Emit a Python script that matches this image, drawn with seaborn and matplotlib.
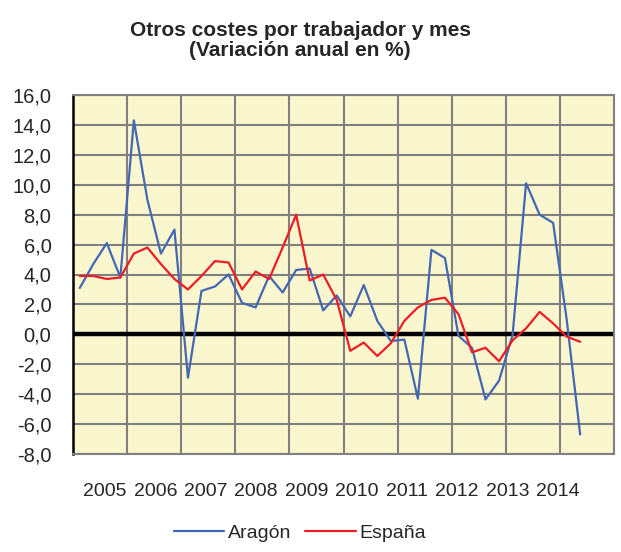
import numpy as np
import pandas as pd
import seaborn as sns
import matplotlib.pyplot as plt
from matplotlib.ticker import FuncFormatter

sns.set_style("white")
plt.rcParams["font.family"] = ["Liberation Sans", "DejaVu Sans"]

# quarterly series, 38 quarters
aragon = [3.1, 4.7, 6.1, 3.8, 14.3, 9.0, 5.4, 7.0, -2.9, 2.9,
          3.2, 4.0, 2.1, 1.8, 3.9, 2.8, 4.3, 4.4, 1.6, 2.6,
          1.2, 3.3, 0.9, -0.45, -0.35, -4.3, 5.65, 5.1, -0.1, -0.9,
          -4.35, -3.1, -0.05, 10.1, 8.0, 7.45, 1.0, -6.7]
espana = [3.9, 3.9, 3.7, 3.8, 5.4, 5.8, 4.7, 3.7, 3.0, 3.9,
          4.9, 4.8, 3.0, 4.2, 3.7, 5.8, 8.0, 3.6, 4.0, 2.3,
          -1.1, -0.55, -1.45, -0.6, 0.9, 1.8, 2.3, 2.45, 1.35, -1.2,
          -0.9, -1.8, -0.4, 0.4, 1.5, 0.73, -0.15, -0.5]
years = ["2005", "2006", "2007", "2008", "2009", "2010", "2011", "2012", "2013", "2014"]
series_names = ["Aragón", "España"]

df = pd.DataFrame({
    "trimestre": list(range(len(aragon))) * 2,
    "valor": aragon + espana,
    "serie": [series_names[0]] * len(aragon) + [series_names[1]] * len(espana),
})

fig = plt.figure(figsize=(6.21, 5.52), dpi=100)
ax = fig.add_axes([73 / 621, 1 - 454 / 552, 541 / 621, 359 / 552])
ax.set_facecolor("#FAF7CF")

grid_kw = dict(color="#808080", linewidth=1.5)
ax.set_ylim(-8, 16)
ax.set_xlim(-0.5, 39.5)
ax.set_yticks(np.arange(-8, 17, 2))
ax.yaxis.grid(True, **grid_kw)
ax.set_xticks(np.arange(3.5, 39, 4), minor=True)
ax.xaxis.grid(True, which="minor", **grid_kw)
ax.set_axisbelow(True)

ax.axhline(0, color="black", linewidth=3.2, zorder=2)

g = sns.lineplot(data=df, x="trimestre", y="valor", hue="serie",
                 palette={"Aragón": "#4467B3", "España": "#EE1C25"},
                 linewidth=1.6, ax=ax, zorder=3)

# year labels (as placed in the original, not aligned with gridlines)
ax.set_xticks(np.linspace(1.87, 35.35, len(years)))
ax.set_xticklabels(years, fontsize=14)
ax.tick_params(axis="x", which="both", length=0, pad=21)
ax.yaxis.set_major_formatter(FuncFormatter(lambda v, _: f"{v:.1f}".replace(".", ",")))
ax.tick_params(axis="y", direction="inout", length=9, width=1.5, color="black",
               labelsize=14.5, pad=11)

for side in ["top", "right", "bottom"]:
    ax.spines[side].set_color("#808080")
    ax.spines[side].set_linewidth(1.5)
ax.spines["left"].set_color("black")
ax.spines["left"].set_linewidth(1.8)

ax.set_xlabel("")
ax.set_ylabel("")

handles, labels = ax.get_legend_handles_labels()
ax.get_legend().remove()
fig.legend(handles, labels, loc="center", bbox_to_anchor=(300 / 621, 1 - 533 / 552),
           ncol=2, frameon=False, fontsize=14, handlelength=2.6,
           handletextpad=0.2, columnspacing=0.7)

fig.text(300 / 621, 1 - 30 / 552, "Otros costes por trabajador y mes",
         ha="center", va="center", fontsize=15, fontweight="bold")
fig.text(300 / 621, 1 - 51 / 552, "(Variación anual en %)",
         ha="center", va="center", fontsize=15, fontweight="bold")

fig.savefig("out.png", dpi=100)
